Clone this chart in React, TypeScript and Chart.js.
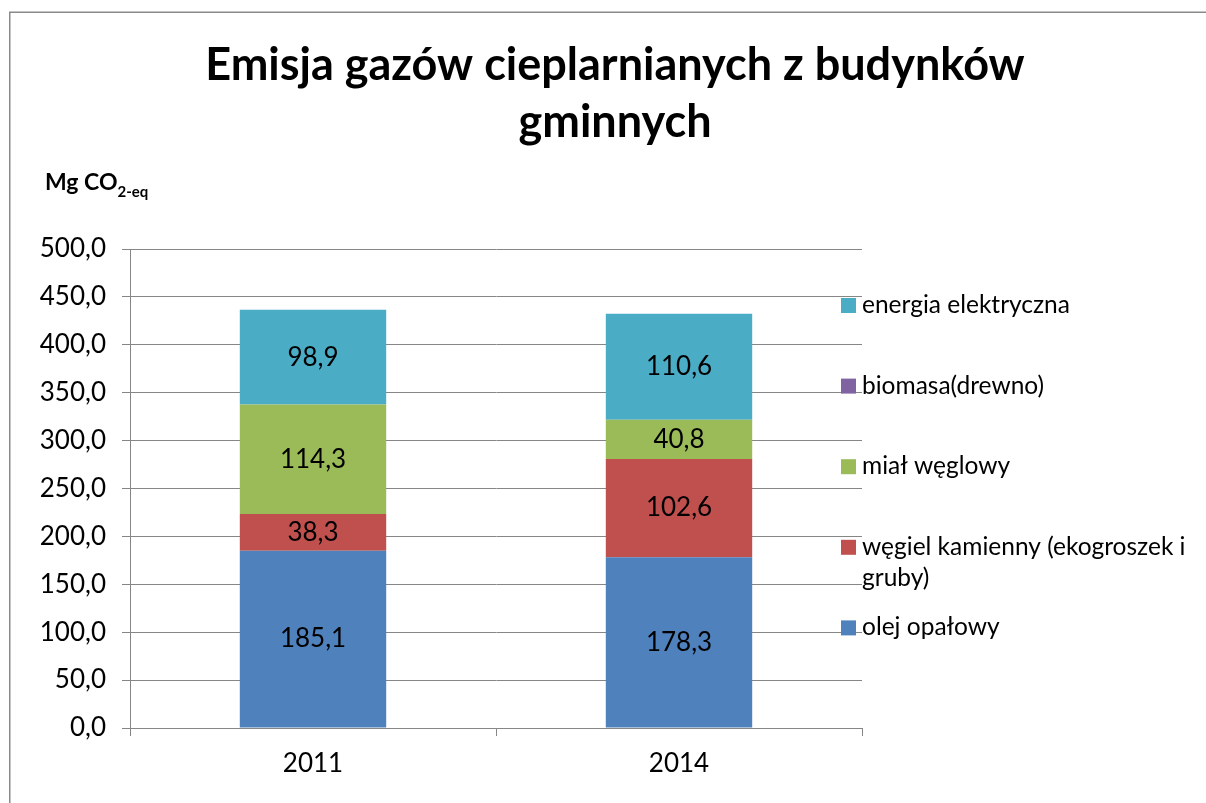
import React, { useEffect, useRef } from "react";
import { Chart, registerables } from "chart.js";

Chart.register(...registerables);

const categories = ["2011", "2014"];
const seriesNames = [
  "olej opałowy",
  "węgiel kamienny (ekogroszek i gruby)",
  "miał węglowy",
  "biomasa(drewno)",
  "energia elektryczna",
];
const seriesColors = ["#4F81BD", "#C0504D", "#9BBB59", "#8064A2", "#4BACC6"];
const olejOpalowy = [185.1, 178.3];
const wegielKamienny = [38.3, 102.6];
const mialWeglowy = [114.3, 40.8];
const biomasa = [0, 0];
const energiaElektryczna = [98.9, 110.6];
const seriesValues = [olejOpalowy, wegielKamienny, mialWeglowy, biomasa, energiaElektryczna];
const titleLines = ["Emisja gazów cieplarnianych z budynków", "gminnych"];

const FONT = "Lato, 'Open Sans', sans-serif";
const fmt = (v: number) => v.toFixed(1).replace(".", ",");

const decorPlugin = {
  id: "decor",
  beforeDraw(chart: any) {
    const ctx = chart.ctx;
    ctx.save();
    ctx.fillStyle = "#ffffff";
    ctx.fillRect(0, 0, chart.width, chart.height);
    ctx.strokeStyle = "#8a8a8a";
    ctx.lineWidth = 1.5;
    ctx.strokeRect(9.75, 12.25, chart.width + 20, chart.height + 20);
    ctx.restore();
  },
  afterDraw(chart: any) {
    const ctx = chart.ctx;
    ctx.save();
    // title
    ctx.fillStyle = "#000";
    ctx.textAlign = "center";
    ctx.textBaseline = "alphabetic";
    ctx.font = `bold 45px ${FONT}`;
    ctx.fillText(titleLines[0], 615, 80);
    ctx.fillText(titleLines[1], 615, 137);
    // axis title with subscript
    ctx.textAlign = "left";
    ctx.font = `bold 23px ${FONT}`;
    const main = "Mg CO";
    ctx.fillText(main, 45, 190);
    const w = ctx.measureText(main).width;
    ctx.font = `bold 15px ${FONT}`;
    ctx.fillText("2-eq", 45 + w, 197);

    // legend
    ctx.font = `24.5px ${FONT}`;
    const maxW = chart.width - 862 - 4;
    const order = [4, 3, 2, 1, 0];
    order.forEach((di, i) => {
      const cy = 305 + i * 80.6;
      ctx.fillStyle = seriesColors[di];
      ctx.fillRect(841, cy - 7, 15, 15);
      ctx.fillStyle = "#000";
      ctx.textBaseline = "middle";
      const words = seriesNames[di].split(" ");
      const lines: string[] = [];
      let cur = "";
      words.forEach((wd) => {
        const test = cur ? cur + " " + wd : wd;
        if (ctx.measureText(test).width > maxW && cur) {
          lines.push(cur);
          cur = wd;
        } else cur = test;
      });
      if (cur) lines.push(cur);
      lines.forEach((ln, li) => ctx.fillText(ln, 862, cy + li * 31));
    });

    // data labels
    ctx.textAlign = "center";
    ctx.textBaseline = "middle";
    ctx.font = `26px ${FONT}`;
    ctx.fillStyle = "#000";
    chart.data.datasets.forEach((ds: any, di: number) => {
      const meta = chart.getDatasetMeta(di);
      meta.data.forEach((el: any, i: number) => {
        const v = ds.data[i];
        if (!v) return;
        ctx.fillText(fmt(v), el.x, (el.y + el.base) / 2);
      });
    });
    ctx.restore();
  },
};

export default function App() {
  const ref = useRef<HTMLCanvasElement>(null);
  useEffect(() => {
    document.body.style.margin = "0";
    const chart = new Chart(ref.current as HTMLCanvasElement, {
      type: "bar",
      data: {
        labels: categories,
        datasets: seriesNames.map((n, i) => ({
          label: n,
          data: seriesValues[i],
          backgroundColor: seriesColors[i],
          borderWidth: 0,
          barPercentage: 0.4,
          categoryPercentage: 1,
        })),
      },
      options: {
        animation: false,
        responsive: false,
        maintainAspectRatio: false,
        layout: { padding: { left: 0, right: 344, top: 249, bottom: 0 } },
        plugins: { legend: { display: false }, title: { display: false }, tooltip: { enabled: false } },
        scales: {
          x: {
            stacked: true,
            afterFit: (s: any) => {
              s.height = 75;
            },
            border: { display: true, color: "#868686", width: 1 },
            grid: { display: true, drawOnChartArea: false, drawTicks: true, tickLength: 8, color: "#868686", offset: true },
            ticks: { color: "#000", font: { family: FONT, size: 26 }, padding: 12 },
          },
          y: {
            stacked: true,
            min: 0,
            max: 500,
            afterFit: (s: any) => {
              s.width = 130;
            },
            border: { display: true, color: "#868686", width: 1 },
            grid: { color: "#868686", lineWidth: 1, tickLength: 8 },
            ticks: {
              stepSize: 50,
              color: "#000",
              font: { family: FONT, size: 26 },
              padding: 16,
              callback: (v: any) => fmt(Number(v)),
            },
          },
        },
      },
      plugins: [decorPlugin],
    });
    return () => chart.destroy();
  }, []);
  return <canvas ref={ref} width={1206} height={803} style={{ display: "block" }} />;
}
